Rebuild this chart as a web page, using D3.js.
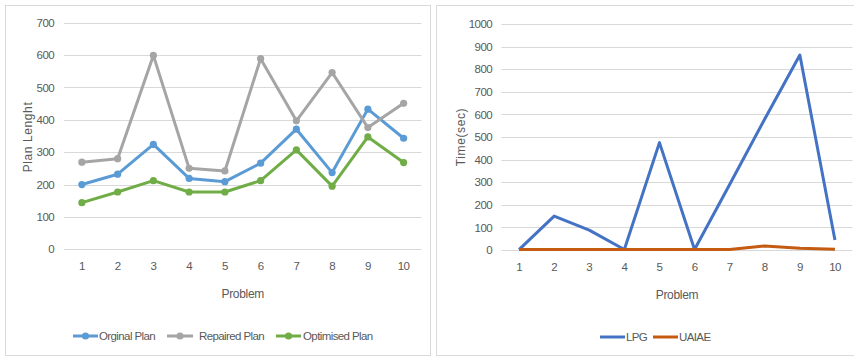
<!DOCTYPE html>
<html>
<head>
<meta charset="utf-8">
<script src="https://cdn.jsdelivr.net/npm/d3@7"></script>
<style>
  html, body { margin: 0; padding: 0; background: #fff; }
  svg text { font-family: "Liberation Sans", Arial, sans-serif; fill: #595959; }
</style>
</head>
<body>
<svg id="chart" width="854" height="358"></svg>
<script>
// Problem numbers shared by both charts
const problems = [1, 2, 3, 4, 5, 6, 7, 8, 9, 10];

// Plan length per problem
const originalPlan  = [200, 232, 324, 219, 209, 266, 371, 237, 433, 343];
const repairedPlan  = [269, 280, 599, 250, 242, 589, 397, 546, 376, 451];
const optimisedPlan = [144, 177, 212, 177, 177, 212, 307, 195, 347, 268];

// Solving time per problem (seconds)
const lpgTime   = [2, 150, 88, 2, 475, 2, 290, 580, 863, 44];
const uaiaeTime = [2, 2, 2, 2, 2, 2, 2, 18, 8, 3];

const planTicks = [0, 100, 200, 300, 400, 500, 600, 700];
const timeTicks = [0, 100, 200, 300, 400, 500, 600, 700, 800, 900, 1000];

const svg = d3.select("#chart");

function drawPanel(cfg) {
  const g = svg.append("g");

  // panel frame
  g.append("rect")
    .attr("x", cfg.frame[0] + 0.5).attr("y", cfg.frame[1] + 0.5)
    .attr("width", cfg.frame[2]).attr("height", cfg.frame[3])
    .attr("fill", "#fff").attr("stroke", "#d9d9d9").attr("stroke-width", 1);

  const x = d3.scaleBand().domain(problems).range([cfg.left, cfg.right]);
  const y = d3.scaleLinear().domain([0, cfg.yMax]).range([cfg.bottom, cfg.top]);
  const cx = d => x(d) + x.bandwidth() / 2;

  // horizontal gridlines
  g.append("g").selectAll("line").data(cfg.ticks).join("line")
    .attr("x1", cfg.left).attr("x2", cfg.right)
    .attr("y1", d => Math.round(y(d)) + 0.5).attr("y2", d => Math.round(y(d)) + 0.5)
    .attr("stroke", "#d9d9d9").attr("stroke-width", 1);

  // y axis labels
  const yAxis = d3.axisLeft(y).tickValues(cfg.ticks).tickFormat(d3.format("d"))
    .tickSize(0).tickPadding(0);
  const ya = g.append("g").attr("transform", `translate(${cfg.yLabelX},0)`).call(yAxis);
  ya.select(".domain").remove();
  ya.selectAll("text").attr("font-size", 11.5).attr("letter-spacing", "-0.6px")
    .style("font-family", null).attr("fill", "#595959");

  // x axis labels
  const xAxis = d3.axisBottom(x).tickSize(0).tickPadding(0);
  const xa = g.append("g").attr("transform", `translate(0,${cfg.xLabelY})`).call(xAxis);
  xa.select(".domain").remove();
  xa.selectAll("text").attr("font-size", 11.5).attr("letter-spacing", "-0.6px")
    .style("font-family", null).attr("fill", "#595959");

  // axis titles
  g.append("text")
    .attr("x", (cfg.left + cfg.right) / 2).attr("y", cfg.xTitleY)
    .attr("text-anchor", "middle").attr("font-size", 12)
    .attr("letter-spacing", "-0.3px")
    .text("Problem");
  g.append("text")
    .attr("transform", `translate(${cfg.yTitleX},${cfg.yTitleY}) rotate(-90)`)
    .attr("text-anchor", "middle").attr("font-size", 12)
    .attr("letter-spacing", "0.6px")
    .text(cfg.yTitle);

  // series lines and markers
  const line = d3.line().x((d, i) => cx(problems[i])).y(d => y(d));
  cfg.series.forEach(s => {
    g.append("path").datum(s.values)
      .attr("d", line).attr("fill", "none")
      .attr("stroke", s.color).attr("stroke-width", 3)
      .attr("stroke-linejoin", "round");
    if (cfg.markers) {
      g.append("g").selectAll("circle").data(s.values).join("circle")
        .attr("cx", (d, i) => cx(problems[i])).attr("cy", d => y(d))
        .attr("r", 3.6).attr("fill", s.color);
    }
  });

  // legend
  cfg.series.forEach(s => {
    const lg = g.append("g");
    lg.append("line")
      .attr("x1", s.legend[0]).attr("x2", s.legend[1])
      .attr("y1", cfg.legendY).attr("y2", cfg.legendY)
      .attr("stroke", s.color).attr("stroke-width", 3);
    if (cfg.markers) {
      lg.append("circle")
        .attr("cx", (s.legend[0] + s.legend[1]) / 2).attr("cy", cfg.legendY)
        .attr("r", 3.6).attr("fill", s.color);
    }
    lg.append("text")
      .attr("x", s.legend[2]).attr("y", cfg.legendY + 4)
      .attr("font-size", 11.5).attr("letter-spacing", "-0.6px")
      .text(s.name);
  });
}

drawPanel({
  frame: [5, 5, 425, 350],
  left: 64, right: 421.5, top: 22.7, bottom: 249.3,
  yMax: 700, ticks: planTicks,
  yLabelX: 54, xLabelY: 262, xTitleY: 298,
  yTitle: "Plan Lenght", yTitleX: 32, yTitleY: 137,
  legendY: 336, markers: true,
  series: [
    { name: "Orginal Plan",   values: originalPlan,  color: "#5b9bd5", legend: [73, 98, 99] },
    { name: "Repaired Plan",  values: repairedPlan,  color: "#a5a5a5", legend: [167, 193, 199] },
    { name: "Optimised Plan", values: optimisedPlan, color: "#70ad47", legend: [276, 301, 303] }
  ]
});

drawPanel({
  frame: [436, 5, 425, 350],
  left: 501.5, right: 852.5, top: 24, bottom: 250,
  yMax: 1000, ticks: timeTicks,
  yLabelX: 492, xLabelY: 263, xTitleY: 299,
  yTitle: "Time(sec)", yTitleX: 465, yTitleY: 137,
  legendY: 337, markers: false,
  series: [
    { name: "LPG",   values: lpgTime,   color: "#4472c4", legend: [600, 625, 626] },
    { name: "UAIAE", values: uaiaeTime, color: "#c55a11", legend: [653, 678, 679] }
  ]
});
</script>
</body>
</html>
